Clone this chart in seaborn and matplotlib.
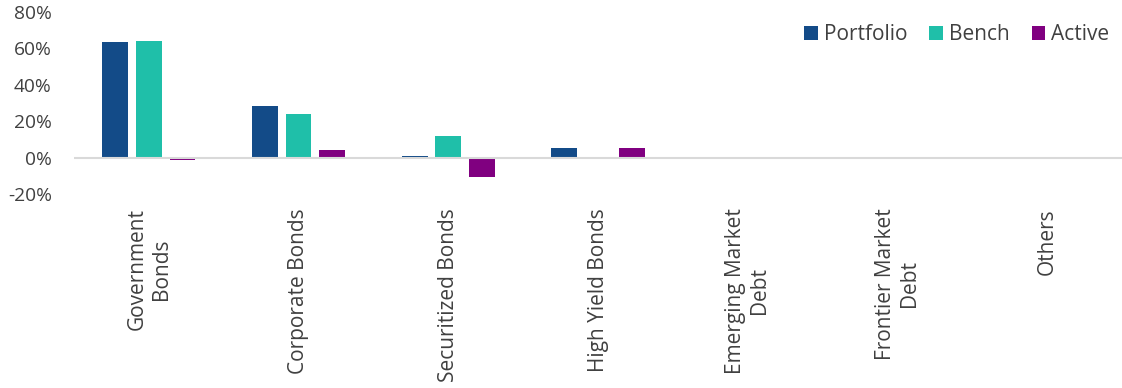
import matplotlib
matplotlib.use("Agg")
import matplotlib.pyplot as plt
from matplotlib.ticker import FuncFormatter
import seaborn as sns
import pandas as pd

categories = ["Government\nBonds", "Corporate Bonds", "Securitized Bonds",
              "High Yield Bonds", "Emerging Market\nDebt",
              "Frontier Market\nDebt", "Others"]
portfolio = [63.4, 28.1, 1.1, 5.5, 0.6, 0.0, 0.0]
bench = [64.1, 23.8, 11.8, 0.0, 0.0, 0.0, 0.0]
active = [-1.1, 4.3, -10.7, 5.5, 0.6, 0.0, 0.0]
series_names = ["Portfolio", "Bench", "Active"]
colors = ["#134B88", "#1FBFA9", "#800080"]
ytick_values = [-20, 0, 20, 40, 60, 80]

df = pd.DataFrame({
    "category": categories * 3,
    "series": [s for s in series_names for _ in categories],
    "value": portfolio + bench + active,
})

sns.set_theme(style="white")
plt.rcParams["font.family"] = ["Open Sans", "DejaVu Sans"]
text_color = "#404040"

fig = plt.figure(figsize=(11.22, 3.88), dpi=100)
ax = fig.add_axes([0.066, 0.5, 0.934, 0.469])

sns.barplot(data=df, x="category", y="value", hue="series",
            hue_order=series_names, palette=colors, order=categories,
            width=0.675, gap=0.235, errorbar=None, ax=ax,
            saturation=1, linewidth=0)

ax.axhline(0, color="#D9D9D9", linewidth=1.5, zorder=3)
ax.set_ylim(-20, 80)
ax.set_xlim(-0.5, len(categories) - 0.5)
ax.set_yticks(ytick_values)
ax.yaxis.set_major_formatter(FuncFormatter(lambda v, _: f"{v:.0f}%"))
ax.tick_params(axis="y", length=0, pad=16, labelsize=13.8, labelcolor=text_color)
ax.tick_params(axis="x", length=0, pad=10, labelsize=15, labelcolor=text_color)
for lab in ax.get_xticklabels():
    lab.set_rotation(90)
    lab.set_multialignment("center")
ax.set_xlabel("")
ax.set_ylabel("")
for s in ax.spines.values():
    s.set_visible(False)

handles, labels = ax.get_legend_handles_labels()
leg = ax.legend(handles, labels, loc="upper right", bbox_to_anchor=(1.006, 1.035),
                ncol=3, frameon=False, fontsize=15, handlelength=0.65,
                handleheight=0.65, handletextpad=0.3, columnspacing=1.05,
                labelcolor=text_color)

fig.savefig("out.png", dpi=100)
